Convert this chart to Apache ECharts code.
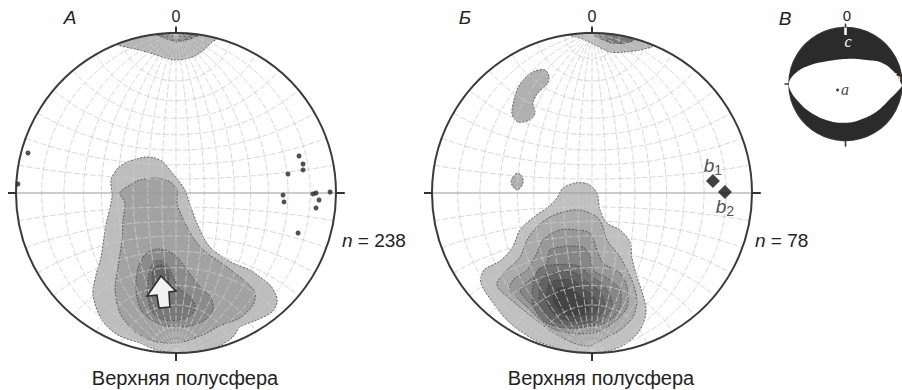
<!DOCTYPE html>
<html>
<head>
<meta charset="utf-8">
<script src="https://cdn.jsdelivr.net/npm/echarts@6/dist/echarts.min.js"></script>
<style>
  html, body { margin: 0; background: #fff; }
  #chart { width: 902px; height: 390px; }
</style>
</head>
<body>
<div id="chart"></div>
<script>
// стереограммы (сетка Вульфа), координаты в единицах радиуса: x - восток, y - север
const panelLetters = ['А', 'Б', 'В'];
const sampleCounts = [238, 78];
const hemisphereLabel = 'Верхняя полусфера';
const netStep = 10; // шаг сетки, градусы

// А: изолинии плотности (от внешней к внутренней)
const contourA_top = [[-0.37, 0.93], [-0.256, 0.9], [-0.163, 0.875], [-0.069, 0.844], [-0.006, 0.831], [0.056, 0.838],
  [0.119, 0.856], [0.181, 0.9], [0.225, 0.944], [0.26, 0.965], [0.15, 0.989], [0, 1], [-0.15, 0.989], [-0.28, 0.96]];
const contourA_topCore = [[-0.12, 0.99], [-0.05, 0.96], [0.01, 0.945], [0.08, 0.96], [0.14, 0.985], [0.06, 0.998], [0, 1]];
const contourA_1 = [[-0.244, 0.213], [-0.194, 0.225], [-0.131, 0.219], [-0.081, 0.194], [-0.038, 0.144], [0.013, 0.081],
  [0.056, 0.019], [0.088, -0.075], [0.131, -0.188], [0.181, -0.294], [0.231, -0.356], [0.356, -0.438], [0.463, -0.481],
  [0.525, -0.525], [0.588, -0.575], [0.625, -0.638], [0.631, -0.688], [0.6, -0.744], [0.506, -0.794], [0.4, -0.838],
  [0.356, -0.9], [0.256, -0.963], [0.15, -0.988], [0, -1], [-0.119, -0.981], [-0.225, -0.938], [-0.363, -0.888],
  [-0.463, -0.794], [-0.519, -0.638], [-0.5, -0.513], [-0.469, -0.4], [-0.438, -0.2], [-0.4, -0.025], [-0.406, 0.081],
  [-0.363, 0.156], [-0.306, 0.194]];
const contourA_2 = [[-0.35, 0], [-0.288, 0.05], [-0.225, 0.081], [-0.119, 0.094], [-0.038, 0.069], [0.006, 0.019],
  [0.006, -0.063], [0.038, -0.15], [0.069, -0.213], [0.131, -0.313], [0.194, -0.375], [0.319, -0.463], [0.444, -0.563],
  [0.494, -0.625], [0.481, -0.7], [0.4, -0.781], [0.338, -0.806], [0.256, -0.838], [0.194, -0.875], [0.044, -0.931],
  [-0.056, -0.938], [-0.163, -0.919], [-0.269, -0.856], [-0.35, -0.75], [-0.381, -0.606], [-0.363, -0.463],
  [-0.338, -0.294], [-0.331, -0.169], [-0.319, -0.063]];
const contourA_3 = [[-0.206, -0.4], [-0.163, -0.363], [-0.119, -0.35], [-0.05, -0.363], [0.006, -0.4], [0.069, -0.481],
  [0.15, -0.588], [0.219, -0.656], [0.231, -0.731], [0.181, -0.794], [0.088, -0.831], [-0.006, -0.838], [-0.119, -0.813],
  [-0.206, -0.75], [-0.244, -0.656], [-0.25, -0.556], [-0.238, -0.469]];
const contourA_4 = [[-0.144, -0.438], [-0.081, -0.425], [-0.038, -0.481], [0.013, -0.588], [0.088, -0.65], [0.119, -0.713],
  [0.088, -0.769], [0.013, -0.794], [-0.069, -0.794], [-0.144, -0.75], [-0.175, -0.656], [-0.175, -0.544]];
const contourA_5 = [[-0.138, -0.469], [-0.081, -0.45], [-0.044, -0.513], [-0.063, -0.606], [-0.125, -0.619], [-0.15, -0.544]];
const contoursA = [contourA_top, contourA_topCore, contourA_1, contourA_2, contourA_3, contourA_4, contourA_5];
const fillsA = ['#b6b6b6', '#707070', '#bdbdbd', '#a2a2a2', '#8b8b8b', '#787878', '#666666'];
// направление максимума (стрелка)
const arrowA = [[-0.094, -0.519], [0, -0.613], [-0.044, -0.619], [-0.038, -0.713], [-0.106, -0.719], [-0.119, -0.638], [-0.181, -0.644]];
// А: отдельные замеры
const pointsA = [[-0.925, 0.25], [-0.988, 0.056], [0.769, 0.231], [0.794, 0.181], [0.794, 0.144], [0.7, 0.119],
  [0.669, -0.013], [0.675, -0.056], [0.856, -0.006], [0.875, 0], [0.894, -0.044], [0.875, -0.094], [0.963, 0.006],
  [0.763, -0.25]];

// Б: изолинии плотности
const contourB_top = [[-0.15, 0.988], [-0.075, 0.969], [0.019, 0.925], [0.113, 0.881], [0.206, 0.881], [0.3, 0.894],
  [0.381, 0.919], [0.3, 0.954], [0.15, 0.989], [0, 1], [-0.1, 0.995]];
const contourB_topCore = [[-0.01, 0.995], [0.04, 0.97], [0.11, 0.94], [0.19, 0.935], [0.26, 0.955], [0.2, 0.98], [0.1, 0.995]];
const contourB_nw = [[-0.463, 0.444], [-0.5, 0.494], [-0.488, 0.581], [-0.463, 0.656], [-0.419, 0.719], [-0.356, 0.763],
  [-0.294, 0.769], [-0.269, 0.731], [-0.281, 0.681], [-0.338, 0.625], [-0.369, 0.563], [-0.356, 0.5], [-0.388, 0.456]];
const contourB_w = [[-0.494, 0.1], [-0.469, 0.125], [-0.438, 0.106], [-0.431, 0.063], [-0.463, 0.019], [-0.494, 0.038], [-0.506, 0.075]];
const contourB_1 = [[-0.181, 0.031], [-0.106, 0.063], [-0.025, 0.056], [0.031, 0], [0.05, -0.106], [0.094, -0.188],
  [0.175, -0.231], [0.238, -0.306], [0.25, -0.406], [0.281, -0.525], [0.319, -0.638], [0.338, -0.744], [0.3, -0.856],
  [0.219, -0.938], [0.125, -0.981], [0, -1], [-0.125, -0.994], [-0.244, -0.963], [-0.369, -0.913], [-0.513, -0.813],
  [-0.613, -0.694], [-0.694, -0.563], [-0.675, -0.481], [-0.575, -0.425], [-0.5, -0.344], [-0.45, -0.231],
  [-0.356, -0.144], [-0.275, -0.088], [-0.219, -0.031]];
const contourB_2 = [[-0.263, -0.15], [-0.181, -0.119], [-0.075, -0.106], [0.031, -0.15], [0.069, -0.213], [0.094, -0.294],
  [0.175, -0.4], [0.219, -0.481], [0.256, -0.563], [0.281, -0.669], [0.256, -0.775], [0.175, -0.856], [0.094, -0.9],
  [-0.031, -0.956], [-0.2, -0.9], [-0.325, -0.813], [-0.45, -0.713], [-0.575, -0.606], [-0.594, -0.563],
  [-0.531, -0.481], [-0.45, -0.4], [-0.406, -0.294], [-0.344, -0.213]];
const contourB_3 = [[-0.306, -0.294], [-0.2, -0.231], [-0.094, -0.231], [-0.013, -0.25], [0.031, -0.356], [0.069, -0.438],
  [0.175, -0.5], [0.219, -0.588], [0.219, -0.713], [0.131, -0.813], [0.006, -0.875], [-0.138, -0.875], [-0.263, -0.838],
  [-0.406, -0.713], [-0.513, -0.606], [-0.494, -0.544], [-0.406, -0.481], [-0.344, -0.375]];
const contourB_4 = [[-0.263, -0.356], [-0.2, -0.338], [-0.056, -0.338], [-0.013, -0.4], [0.006, -0.481], [0.113, -0.544],
  [0.175, -0.606], [0.175, -0.713], [0.113, -0.794], [-0.013, -0.838], [-0.156, -0.838], [-0.281, -0.794],
  [-0.388, -0.688], [-0.45, -0.606], [-0.388, -0.544], [-0.306, -0.481], [-0.275, -0.419]];
const contourB_5 = [[-0.325, -0.469], [-0.106, -0.45], [-0.013, -0.513], [0.081, -0.588], [0.125, -0.688], [0.081, -0.781],
  [-0.013, -0.831], [-0.169, -0.844], [-0.294, -0.806], [-0.369, -0.7], [-0.369, -0.575]];
const contourB_6 = [[-0.294, -0.513], [-0.119, -0.494], [-0.031, -0.556], [0.05, -0.619], [0.081, -0.7], [0.044, -0.775],
  [-0.031, -0.813], [-0.163, -0.819], [-0.263, -0.781], [-0.325, -0.694], [-0.325, -0.588]];
const contourB_7 = [[-0.263, -0.556], [-0.125, -0.544], [-0.05, -0.6], [0.019, -0.656], [0.038, -0.719], [0.006, -0.769],
  [-0.056, -0.794], [-0.163, -0.794], [-0.238, -0.756], [-0.281, -0.688], [-0.281, -0.613]];
const contourB_8 = [[-0.225, -0.6], [-0.131, -0.594], [-0.069, -0.644], [-0.019, -0.694], [-0.025, -0.744], [-0.075, -0.763],
  [-0.163, -0.763], [-0.213, -0.725], [-0.244, -0.663]];
const contoursB = [contourB_top, contourB_topCore, contourB_nw, contourB_w, contourB_1, contourB_2, contourB_3,
  contourB_4, contourB_5, contourB_6, contourB_7, contourB_8];
const fillsB = ['#b9b9b9', '#777777', '#b0b0b0', '#b0b0b0', '#c0c0c0', '#ababab', '#989898', '#868686', '#747474',
  '#636363', '#535353', '#444444', '#363636'];
// Б: оси b1, b2
const axesB = [[0.756, 0.075], [0.831, 0.006]];
const axesBSub = ['1', '2'];

// В: диаграмма (белая линза между двумя плоскостями), полюс a
const lensV = [[-1, 0.035], [-0.86, 0.21], [-0.63, 0.33], [-0.33, 0.4], [0.02, 0.44], [0.37, 0.42], [0.65, 0.37],
  [0.86, 0.21], [0.99, 0], [0.99, -0.05], [0.77, -0.28], [0.54, -0.49], [0.25, -0.63], [0.02, -0.68], [-0.28, -0.65],
  [-0.63, -0.49], [-0.86, -0.28], [-0.98, -0.1]];
const poleV = [[-0.14, -0.105]];

const sans = '"Liberation Sans", Arial, sans-serif';
const serif = '"Liberation Serif", "DejaVu Serif", serif';

// проекция сферы на плоскость (равноугольная, сетка Вульфа)
function project(lon, lat) {
  const d = Math.PI / 180;
  const X = Math.cos(lat * d) * Math.sin(lon * d);
  const Y = Math.sin(lat * d);
  const Z = Math.cos(lat * d) * Math.cos(lon * d);
  return [X / (1 + Z), Y / (1 + Z)];
}

function netLines() {
  const lines = [];
  for (let lon = -90 + netStep; lon < 90; lon += netStep) {
    const pts = [];
    for (let lat = -90; lat <= 90; lat += 2) pts.push(project(lon, lat));
    lines.push(pts);
  }
  for (let lat = -90 + netStep; lat < 90; lat += netStep) {
    if (lat === 0) continue;
    const pts = [];
    for (let lon = -90; lon <= 90; lon += 2) pts.push(project(lon, lat));
    lines.push(pts);
  }
  return lines;
}
const net = netLines();

function netSeries(gi) {
  return {
    type: 'custom', xAxisIndex: gi, yAxisIndex: gi, z: 3, silent: true,
    data: net.map((l, i) => [0, 0, i]),
    renderItem: (params, api) => ({
      type: 'polyline',
      shape: {points: net[params.dataIndex].map(p => api.coord(p))},
      style: {stroke: '#cdcdcd', lineWidth: 0.8, fill: null, lineDash: [6, 2]}
    })
  };
}

function contourSeries(gi, polys, fills) {
  return {
    type: 'custom', xAxisIndex: gi, yAxisIndex: gi, z: 2, silent: true,
    data: polys.map((p, i) => [0, 0, i]),
    renderItem: (params, api) => ({
      type: 'polygon',
      shape: {points: polys[params.dataIndex].map(p => api.coord(p)), smooth: 0.3},
      style: {fill: fills[params.dataIndex], stroke: '#444', lineWidth: 0.8, lineDash: [2, 1.5]}
    })
  };
}

// окружность, диаметр В-З и риски по сторонам света
function frameSeries(gi, diameter) {
  const ticks = [[[0, 1], [0, 1.04]], [[0, -1], [0, -1.05]], [[-1, 0], [-1.05, 0]], [[1, 0], [1.055, 0]]];
  return {
    type: 'custom', xAxisIndex: gi, yAxisIndex: gi, z: 4, silent: true,
    data: [[0, 0]],
    renderItem: (params, api) => {
      const c = api.coord([0, 0]);
      const r = api.size([1, 1])[0];
      const children = [];
      if (diameter) {
        const a = api.coord([-1, 0]), b = api.coord([1, 0]);
        children.push({type: 'line', shape: {x1: a[0], y1: a[1], x2: b[0], y2: b[1]}, style: {stroke: '#9a9a9a', lineWidth: 1}});
      }
      children.push({type: 'circle', shape: {cx: c[0], cy: c[1], r: r}, style: {fill: null, stroke: '#3a3a3a', lineWidth: 2}});
      ticks.forEach(t => {
        const a = api.coord(t[0]), b = api.coord(t[1]);
        children.push({type: 'line', shape: {x1: a[0], y1: a[1], x2: b[0], y2: b[1]}, style: {stroke: '#333', lineWidth: 2}});
      });
      return {type: 'group', children: children};
    }
  };
}

function txt(x, y, text, style) {
  return {
    type: 'text', x: x, y: y, z: 100, silent: true,
    style: Object.assign({text: text, fill: '#222', fontFamily: sans, fontSize: 16, align: 'center', verticalAlign: 'middle'}, style)
  };
}

const chart = echarts.init(document.getElementById('chart'), null, {renderer: 'svg'});

const option = {
  animation: false,
  grid: [
    {left: 16, top: 33, width: 320, height: 320},
    {left: 432, top: 33, width: 320, height: 320},
    {left: 789, top: 27, width: 114, height: 114}
  ],
  xAxis: [0, 1, 2].map(i => ({type: 'value', gridIndex: i, min: -1, max: 1, show: false})),
  yAxis: [0, 1, 2].map(i => ({type: 'value', gridIndex: i, min: -1, max: 1, show: false})),
  series: [
    // А
    contourSeries(0, contoursA, fillsA),
    netSeries(0),
    {
      type: 'custom', xAxisIndex: 0, yAxisIndex: 0, z: 5, silent: true,
      data: [[0, 0]],
      renderItem: (params, api) => ({
        type: 'polygon',
        shape: {points: arrowA.map(p => api.coord(p))},
        style: {fill: '#f2f2f2', stroke: '#2f2f2f', lineWidth: 1.6}
      })
    },
    frameSeries(0, true),
    {
      type: 'scatter', xAxisIndex: 0, yAxisIndex: 0, z: 6, clip: false, silent: true,
      symbol: 'circle', symbolSize: 5, itemStyle: {color: '#262626'},
      data: pointsA
    },
    // Б
    contourSeries(1, contoursB, fillsB),
    netSeries(1),
    frameSeries(1, true),
    {
      type: 'scatter', xAxisIndex: 1, yAxisIndex: 1, z: 6, clip: false, silent: true,
      symbol: 'diamond', symbolSize: [14, 14], itemStyle: {color: '#111'},
      data: axesB.map((p, i) => ({value: p, label: {position: i === 0 ? 'top' : 'bottom', distance: i === 0 ? -3 : -4}})),
      label: {
        show: true,
        formatter: p => '{b|b}{s|' + axesBSub[p.dataIndex] + '}',
        rich: {
          b: {fontStyle: 'italic', fontSize: 19, fontFamily: sans, color: '#222'},
          s: {fontSize: 14, fontFamily: sans, color: '#222', padding: [9, 0, 0, 0]}
        }
      }
    },
    // В
    {
      type: 'custom', xAxisIndex: 2, yAxisIndex: 2, z: 2, silent: true,
      data: [[0, 0]],
      renderItem: (params, api) => {
        const c = api.coord([0, 0]);
        const r = api.size([1, 1])[0];
        const t0 = api.coord([0, 0.99]), t1 = api.coord([0, 0.86]);
        const ticks = [[[0, 1], [0, 1.06]], [[0, -1], [0, -1.1]], [[-1, 0], [-1.08, 0]]];
        const children = [
          {type: 'circle', shape: {cx: c[0], cy: c[1], r: r}, style: {fill: '#2b2b2b', stroke: '#333', lineWidth: 1.5}},
          {type: 'polygon', shape: {points: lensV.map(p => api.coord(p)), smooth: 0.4}, style: {fill: '#fff'}},
          {type: 'line', shape: {x1: t0[0], y1: t0[1], x2: t1[0], y2: t1[1]}, style: {stroke: '#fff', lineWidth: 2.5}, z2: 5}
        ];
        ticks.forEach(t => {
          const a = api.coord(t[0]), b = api.coord(t[1]);
          children.push({type: 'line', shape: {x1: a[0], y1: a[1], x2: b[0], y2: b[1]}, style: {stroke: '#333', lineWidth: 1.5}});
        });
        return {type: 'group', children: children};
      }
    },
    {
      type: 'scatter', xAxisIndex: 2, yAxisIndex: 2, z: 6, clip: false, silent: true,
      symbol: 'circle', symbolSize: 3, itemStyle: {color: '#111'},
      data: poleV,
      label: {show: true, position: 'right', distance: 2, formatter: 'a',
        fontFamily: serif, fontStyle: 'italic', fontSize: 16, color: '#111'}
    }
  ],
  graphic: [
    txt(70, 17, panelLetters[0], {fontStyle: 'italic', fontSize: 19}),
    txt(176, 16, '0'),
    {
      type: 'text', x: 342, y: 240, silent: true,
      style: {text: '{i|n} = ' + sampleCounts[0], fill: '#222', fontFamily: sans, fontSize: 19, verticalAlign: 'middle',
        rich: {i: {fontStyle: 'italic', fontFamily: sans, fontSize: 19, fill: '#222'}}}
    },
    txt(185, 378, hemisphereLabel, {fontSize: 20}),
    txt(465, 17, panelLetters[1], {fontStyle: 'italic', fontSize: 19}),
    txt(592, 16, '0'),
    {
      type: 'text', x: 755, y: 240, silent: true,
      style: {text: '{i|n} = ' + sampleCounts[1], fill: '#222', fontFamily: sans, fontSize: 19, verticalAlign: 'middle',
        rich: {i: {fontStyle: 'italic', fontFamily: sans, fontSize: 19, fill: '#222'}}}
    },
    txt(601, 378, hemisphereLabel, {fontSize: 20}),
    txt(785, 18, panelLetters[2], {fontStyle: 'italic', fontSize: 19}),
    txt(847, 15, '0', {fontSize: 15}),
    txt(848, 41, 'c', {fontFamily: serif, fontStyle: 'italic', fontSize: 16, fill: '#ffffff'}),
    txt(893, 78, 'b', {fontFamily: serif, fontStyle: 'italic', fontSize: 15, fill: '#ffffff', align: 'left'})
  ]
};

chart.setOption(option);
</script>
</body>
</html>
